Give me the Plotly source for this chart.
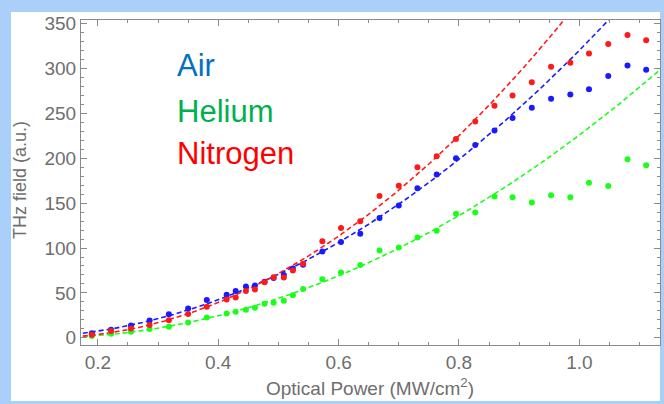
import numpy as np
import plotly.graph_objects as go

# Optical power (MW/cm^2)
power = [0.190, 0.222, 0.255, 0.286, 0.318, 0.350, 0.381, 0.414, 0.429, 0.446,
         0.461, 0.477, 0.492, 0.509, 0.524, 0.541, 0.573, 0.604, 0.636, 0.668,
         0.700, 0.731, 0.763, 0.795, 0.827, 0.859, 0.889, 0.921, 0.953, 0.985,
         1.016, 1.048, 1.080, 1.111]

air = [5.0, 8.9, 13.7, 19.3, 26.2, 32.7, 42.1, 47.9, 52.1, 57.1,
       58.3, 62.4, 66.6, 70.0, 77.3, 81.4, 96.1, 106.7, 115.9, 133.4,
       147.5, 166.7, 181.9, 200.1, 214.9, 231.0, 244.9, 256.2, 266.4, 270.9,
       276.8, 291.7, 303.2, 298.6]

helium = [1.9, 4.5, 6.7, 9.7, 12.3, 17.0, 22.6, 27.0, 29.0, 31.2,
          33.4, 37.9, 39.0, 41.2, 47.4, 54.4, 65.2, 72.8, 81.0, 97.3,
          100.7, 111.8, 119.3, 138.2, 139.7, 157.5, 156.6, 150.8, 158.9, 156.6,
          172.6, 169.2, 199.0, 192.1]

nitrogen = [3.3, 7.5, 10.4, 14.2, 19.7, 26.4, 34.6, 42.7, 44.9, 52.2,
            53.7, 61.9, 67.4, 67.2, 75.0, 82.5, 107.6, 122.3, 129.7, 158.0,
            169.5, 189.9, 202.1, 221.5, 241.0, 258.6, 269.8, 284.8, 301.9, 306.4,
            316.8, 327.2, 337.2, 331.4]

fit_cutoff = {"Air": 0.89, "Helium": 0.83, "Nitrogen": 0.86}
labels = ["Air", "Helium", "Nitrogen"]
marker_colors = {"Air": "#1a1aff", "Helium": "#1aff1a", "Nitrogen": "#ff1a1a"}
text_colors = {"Air": "#0070C0", "Helium": "#00B050", "Nitrogen": "#FF0000"}
x_tick_vals = [0.2, 0.4, 0.6, 0.8, 1.0]
x_tick_text = ["0.2", "0.4", "0.6", "0.8", "1.0"]
y_tick_vals = [0, 50, 100, 150, 200, 250, 300, 350]
x_range = [0.172, 1.134]
y_range = [-8, 354]

series = {"Air": air, "Helium": helium, "Nitrogen": nitrogen}

FONT = "Liberation Sans, Arial"
GRAY = "#6e6e6e"

fig = go.Figure()
xs = np.array(power)
xfine = np.linspace(0.175, x_range[1], 300)
for name in ["Helium", "Air", "Nitrogen"]:
    ys = np.array(series[name])
    m = xs <= fit_cutoff[name]
    # quadratic fit of the form a*(x - x0)^2  (linear fit of sqrt(y))
    slope, icpt = np.polyfit(xs[m], np.sqrt(ys[m]), 1)
    yfit = np.clip(slope * xfine + icpt, 0, None) ** 2
    fig.add_trace(go.Scatter(x=xfine, y=yfit, mode="lines",
                             line=dict(color=marker_colors[name], width=1.6, dash="5px,3px"),
                             hoverinfo="skip", showlegend=False))
for name in ["Helium", "Air", "Nitrogen"]:
    fig.add_trace(go.Scatter(x=power, y=series[name], mode="markers",
                             marker=dict(color=marker_colors[name], size=6),
                             name=name, showlegend=False))

ann_y = {"Air": 303, "Helium": 252, "Nitrogen": 205}
for name in labels:
    fig.add_annotation(x=0.328, y=ann_y[name], xref="x", yref="y", text=name,
                       showarrow=False, xanchor="left", yanchor="middle",
                       font=dict(family=FONT, size=31, color=text_colors[name]))

L, R, T, B = 81, 4, 20, 59
W, H = 664, 404
pw, ph = W - L - R, H - T - B
fig.add_shape(type="rect", xref="paper", yref="paper", layer="below",
              x0=(11 - L) / pw, x1=(660 - L) / pw,
              y0=(H - B - 401) / ph, y1=(H - B - 12) / ph,
              fillcolor="white", line=dict(width=0))

# axis titles as annotations (precise placement)
fig.add_annotation(xref="paper", yref="paper", x=(370 - L) / pw, y=(H - B - 387) / ph,
                   text="Optical Power (MW/cm<sup>2</sup>)", showarrow=False,
                   xanchor="center", yanchor="middle",
                   font=dict(family=FONT, size=19, color=GRAY))
fig.add_annotation(xref="paper", yref="paper", x=(20 - L) / pw, y=(H - B - 180) / ph,
                   text="THz field (a.u.)", showarrow=False, textangle=-90,
                   xanchor="center", yanchor="middle",
                   font=dict(family=FONT, size=18, color=GRAY))

axis_common = dict(showgrid=False, zeroline=False, showline=True, linecolor="#8a8a8a",
                   linewidth=1.2, mirror="allticks", ticks="inside", ticklen=6,
                   tickcolor="#8a8a8a", tickwidth=1, automargin=False,
                   tickfont=dict(family=FONT, size=19, color=GRAY))

fig.update_xaxes(range=x_range, tickvals=x_tick_vals, ticktext=x_tick_text,
                 minor=dict(dtick=0.05, tick0=0, ticks="inside", ticklen=3, tickcolor="#8a8a8a"),
                 **axis_common)
fig.update_yaxes(range=y_range, tickvals=y_tick_vals,
                 minor=dict(dtick=10, tick0=0, ticks="inside", ticklen=3, tickcolor="#8a8a8a"),
                 **axis_common)

fig.update_layout(width=W, height=H, margin=dict(l=L, r=R, t=T, b=B, autoexpand=False),
                  paper_bgcolor="#aad0fa", plot_bgcolor="white", showlegend=False)

fig.write_html("out.html", config={"displayModeBar": False},
               post_script="document.body.style.margin='0';document.body.style.overflow='hidden';")
